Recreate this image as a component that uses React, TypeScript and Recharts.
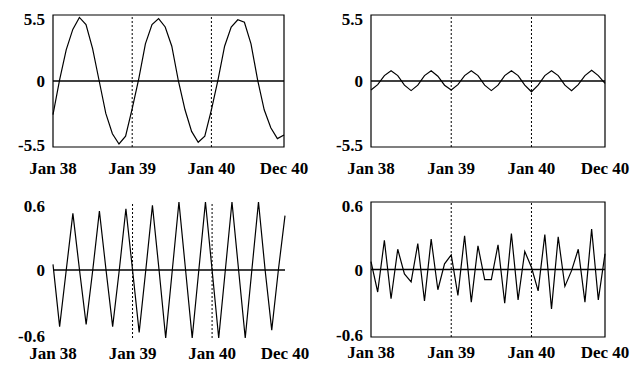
import { LineChart, Line, XAxis, YAxis, ReferenceLine, ReferenceArea } from 'recharts';

const monthNames = ['Jan', 'Feb', 'Mar', 'Apr', 'May', 'Jun', 'Jul', 'Aug', 'Sep', 'Oct', 'Nov', 'Dec'];
const years = ['38', '39', '40'];
const months = years.flatMap((y) => monthNames.map((m) => `${m} ${y}`));
const xTicks = ['Jan 38', 'Jan 39', 'Jan 40', 'Dec 40'];
const yearMarks = ['Jan 39', 'Jan 40'];

// top left: annual component
const annual = [
  -2.8, 0.1, 2.6, 4.3, 5.3, 4.7, 2.7, 0, -2.7, -4.4, -5.25, -4.6,
  -2.3, 0.2, 3.1, 4.7, 5.2, 4.5, 2.9, 0, -2.4, -4.2, -5.1, -4.6,
  -2.4, 0.1, 2.9, 4.5, 5.1, 4.9, 3.1, 0.1, -2.4, -3.9, -4.8, -4.5,
];
// top right: half-year component
const halfYear = [
  -0.75, -0.3, 0.45, 0.85, 0.45, -0.35, -0.8, -0.35, 0.45, 0.85, 0.4, -0.35,
  -0.75, -0.3, 0.45, 0.85, 0.45, -0.35, -0.8, -0.35, 0.45, 0.85, 0.45, -0.35,
  -0.9, -0.35, 0.45, 0.85, 0.45, -0.35, -0.8, -0.3, 0.45, 0.9, 0.45, -0.2,
];
// bottom left: four-month cycle
const fourMonth = [
  0.05, -0.5, 0, 0.5, 0, -0.48, 0, 0.52, 0, -0.5, 0, 0.54,
  0, -0.55, 0, 0.57, 0, -0.6, 0, 0.6, 0, -0.6, 0, 0.6,
  0, -0.6, 0, 0.6, 0, -0.6, 0, 0.6, 0, -0.53, 0, 0.48,
];
// bottom right: irregular
const irregular = [
  0.07, -0.2, 0.26, -0.26, 0.18, -0.04, -0.11, 0.23, -0.28, 0.27, -0.18, 0.05,
  0.13, -0.23, 0.3, -0.29, 0.21, -0.09, -0.09, 0.22, -0.3, 0.32, -0.27, 0.16,
  0.02, -0.19, 0.31, -0.35, 0.29, -0.15, -0.01, 0.18, -0.29, 0.36, -0.27, 0.14,
];

const font = { fontFamily: 'Liberation Serif', fontWeight: 700, fontSize: 17, fill: '#000' };

const XTick = (props: any) => (
  <text x={props.x} y={props.y} dy="0.71em" textAnchor="middle" {...font}>
    {props.payload.value}
  </text>
);

const makeYTick = (lim: number) => (props: any) => {
  const v = props.payload.value;
  const shift = v === lim ? 4 : v === -lim ? -2 : 0;
  return (
    <text x={props.x} y={props.y + shift} dy="0.355em" textAnchor="end" {...font}>
      {String(v)}
    </text>
  );
};

type PanelProps = {
  values: number[];
  lim: number;
  left: number;
  top: number;
  plotW: number;
  plotH: number;
  xGap: number;
};

const Panel = ({ values, lim, left, top, plotW, plotH, xGap }: PanelProps) => {
  const data = months.map((m, i) => ({ month: m, v: values[i] }));
  const mTop = 15;
  const yW = 53;
  const mRight = 30;
  const xH = 40;
  return (
    <div style={{ position: 'absolute', left, top }}>
      <LineChart
        width={yW + plotW + mRight}
        height={mTop + plotH + xH}
        data={data}
        margin={{ top: mTop, right: mRight, bottom: 0, left: 0 }}
      >
        <XAxis
          dataKey="month"
          ticks={xTicks}
          interval={0}
          tickLine={false}
          axisLine={false}
          tickSize={0}
          tickMargin={xGap}
          height={xH}
          tick={XTick}
        />
        <YAxis
          type="number"
          domain={[-lim, lim]}
          ticks={[-lim, 0, lim]}
          allowDataOverflow
          tickLine={false}
          axisLine={false}
          tickSize={0}
          tickMargin={8}
          width={yW}
          tick={makeYTick(lim)}
        />
        {yearMarks.map((m) => (
          <ReferenceLine key={m} x={m} stroke="#000" strokeDasharray="2 2" strokeWidth={1} />
        ))}
        <ReferenceLine y={0} stroke="#000" strokeWidth={1.5} />
        <ReferenceArea
          x1={months[0]}
          x2={months[months.length - 1]}
          y1={-lim}
          y2={lim}
          fill="none"
          fillOpacity={0}
          stroke="#000"
          strokeWidth={1.2}
        />
        <Line
          type="linear"
          dataKey="v"
          stroke="#000"
          strokeWidth={1.2}
          dot={false}
          isAnimationActive={false}
        />
      </LineChart>
    </div>
  );
};

export default function App() {
  return (
    <div style={{ position: 'absolute', left: 0, top: 0, width: 638, height: 370, background: '#fff' }}>
      <Panel values={annual} lim={5.5} left={0} top={0} plotW={231} plotH={132} xGap={15} />
      <Panel values={halfYear} lim={5.5} left={318} top={0} plotW={234} plotH={132} xGap={15} />
      <Panel values={fourMonth} lim={0.6} left={0} top={187} plotW={232} plotH={136} xGap={9} />
      <Panel values={irregular} lim={0.6} left={318} top={187} plotW={234} plotH={135} xGap={9} />
    </div>
  );
}
